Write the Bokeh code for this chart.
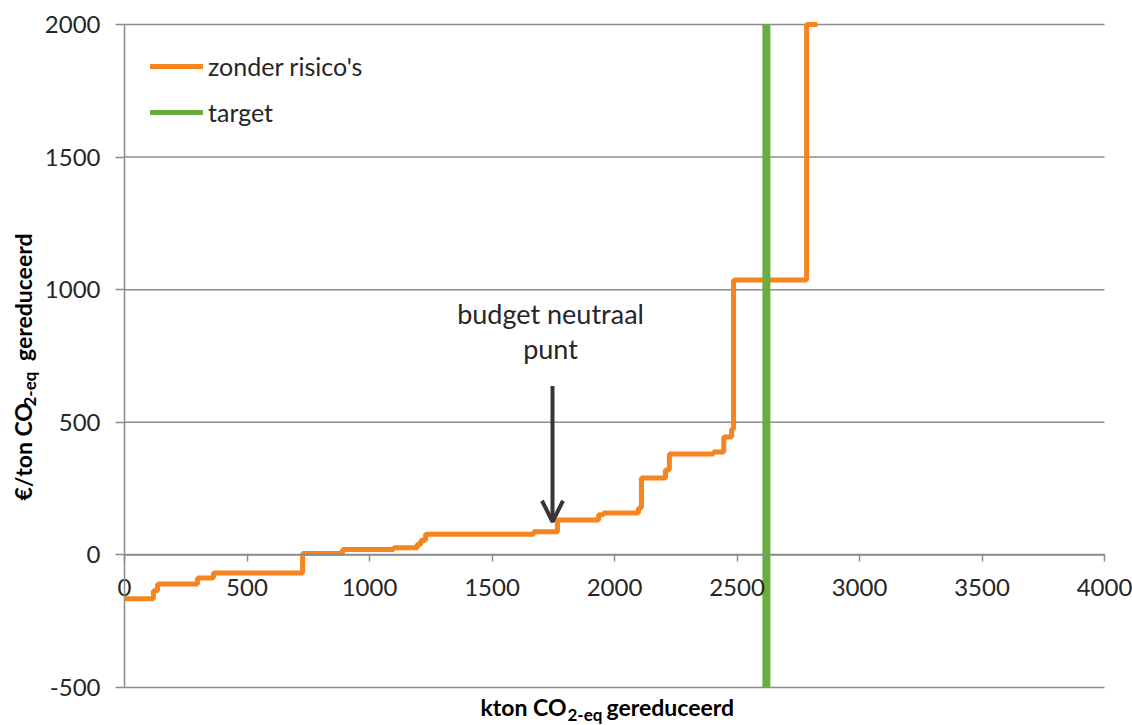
from bokeh.plotting import figure
from bokeh.models import (Range1d, FixedTicker, Label, Arrow, OpenHead, Legend,
                          LegendItem, PrintfTickFormatter)
from bokeh.core.properties import value
from bokeh.embed import file_html
from bokeh.resources import INLINE
import math

# ---- data ----
step_x = [0, 118, 135, 298, 363, 727, 890, 1098, 1195, 1210, 1229, 1670, 1767,
          1935, 1955, 2098, 2110, 2208, 2224, 2404, 2446, 2478, 2486, 2784, 2828]
step_y = [-165, -135, -110, -87, -68, 5, 20, 27, 40, 55, 78, 87, 132,
          151, 158, 177, 290, 320, 380, 388, 445, 475, 1037, 2000, 2000]
target_x = 2620
x_ticks = [0, 500, 1000, 1500, 2000, 2500, 3000, 3500, 4000]
y_ticks = [-500, 0, 500, 1000, 1500, 2000]
x_min, x_max = 0, 4000
y_min, y_max = -500, 2000
annot_lines = ["budget neutraal", "punt"]
arrow_x, arrow_top, arrow_tip = 1747, 637, 125

# ---- layout (pixels) ----
W, H = 1132, 725
PL, PR, PT, PB = 124, 1104, 24, 687          # plot-area edges
sx = (PR - PL) / (x_max - x_min)
sy = (PB - PT) / (y_max - y_min)
xr = Range1d(x_min - PL / sx, x_max + (W - PR) / sx)
yr = Range1d(y_min - (H - PB) / sy, y_max + PT / sy)

ORANGE = "#F6841F"
GREEN = "#67AE3E"
GRID = "#8C8C8C"
TXT = "#262626"
FONT = "Lato"

p = figure(width=W, height=H, output_backend="svg", toolbar_location=None,
           x_range=xr, y_range=yr, min_border=0)
p.outline_line_color = None
p.background_fill_color = "white"
p.border_fill_color = "white"
p.xgrid.visible = False
p.ygrid.visible = False

# horizontal gridlines over the plot area
p.segment(x0=[x_min] * len(y_ticks), y0=y_ticks, x1=[x_max] * len(y_ticks), y1=y_ticks,
          line_color=GRID, line_width=1.5)

# y axis at x = 0
p.yaxis.fixed_location = x_min
p.yaxis.bounds = (y_min, y_max)
p.yaxis.ticker = FixedTicker(ticks=y_ticks)
p.yaxis.formatter = PrintfTickFormatter(format="%d")
p.yaxis.axis_line_color = GRID
p.yaxis.axis_line_width = 1.5
p.yaxis.major_tick_line_color = GRID
p.yaxis.major_tick_line_width = 1.5
p.yaxis.major_tick_out = 9
p.yaxis.major_tick_in = 0
p.yaxis.minor_tick_line_color = None
p.yaxis.major_label_standoff = 15
p.yaxis.major_label_text_font = FONT
p.yaxis.major_label_text_font_size = "24px"
p.yaxis.major_label_text_color = TXT

# x axis crossing at y = 0
p.xaxis.fixed_location = 0
p.xaxis.bounds = (x_min, x_max)
p.xaxis.ticker = FixedTicker(ticks=x_ticks)
p.xaxis.formatter = PrintfTickFormatter(format="%d")
p.xaxis.axis_line_color = GRID
p.xaxis.axis_line_width = 1.5
p.xaxis.major_tick_line_color = GRID
p.xaxis.major_tick_line_width = 1.5
p.xaxis.major_tick_out = 7
p.xaxis.major_tick_in = 0
p.xaxis.minor_tick_line_color = None
p.xaxis.major_label_standoff = 17
p.xaxis.major_label_text_font = FONT
p.xaxis.major_label_text_font_size = "24px"
p.xaxis.major_label_text_color = TXT

# data
r1 = p.step(step_x, step_y, mode="after", line_color=ORANGE, line_width=5)
r2 = p.segment(x0=[target_x], y0=[y_min], x1=[target_x], y1=[y_max],
               line_color=GREEN, line_width=8)
leg_o = p.line([math.nan], [math.nan], line_color=ORANGE, line_width=5, line_cap="round")
leg_g = p.line([math.nan], [math.nan], line_color=GREEN, line_width=5, line_cap="round")

legend = Legend(items=[LegendItem(label="zonder risico's", renderers=[leg_o]),
                       LegendItem(label="target", renderers=[leg_g])],
                location=(150, H - 48 - 82))
legend.border_line_color = None
legend.background_fill_alpha = 0
legend.margin = 0
legend.padding = 0
legend.glyph_width = 53
legend.glyph_height = 36
legend.label_height = 36
legend.spacing = 10
legend.label_standoff = 5
legend.label_text_font = FONT
legend.label_text_font_size = "25px"
legend.label_text_color = TXT
p.add_layout(legend)

# annotation
p.add_layout(Arrow(end=OpenHead(size=21, line_width=4, line_color="#3A3436"),
                   x_start=arrow_x, y_start=arrow_top, x_end=arrow_x, y_end=arrow_tip,
                   line_width=4, line_color="#3A3436"))
p.text(x=[1739, 1739], y=[909, 777], text=annot_lines, text_align="center",
       text_baseline="alphabetic", text_font=value(FONT), text_font_size="27px",
       text_color=TXT)

# axis titles (with subscript), screen units from bottom-left
def lab(x, y, t, size, align, angle=0.0):
    p.add_layout(Label(x=x, y=y, x_units="screen", y_units="screen", text=t,
                       text_font=FONT, text_font_size=size,
                       text_font_style="bold", text_color="#000000",
                       text_align=align, text_baseline="alphabetic", angle=angle))

# x title
lab(566, H - 706, "kton CO", "23px", "right")
lab(567, H - 714, "2-eq", "17px", "left")
lab(606, H - 706, "gereduceerd", "23px", "left")
# y title (rotated)
a = math.pi / 2
lab(22, H - 500, "€/ton CO", "23px", "left", a)
lab(29, H - 406, "2-eq", "17px", "left", a)
lab(22, H - 233, "gereduceerd", "23px", "right", a)

open("out.html", "w").write(file_html(p, INLINE))
